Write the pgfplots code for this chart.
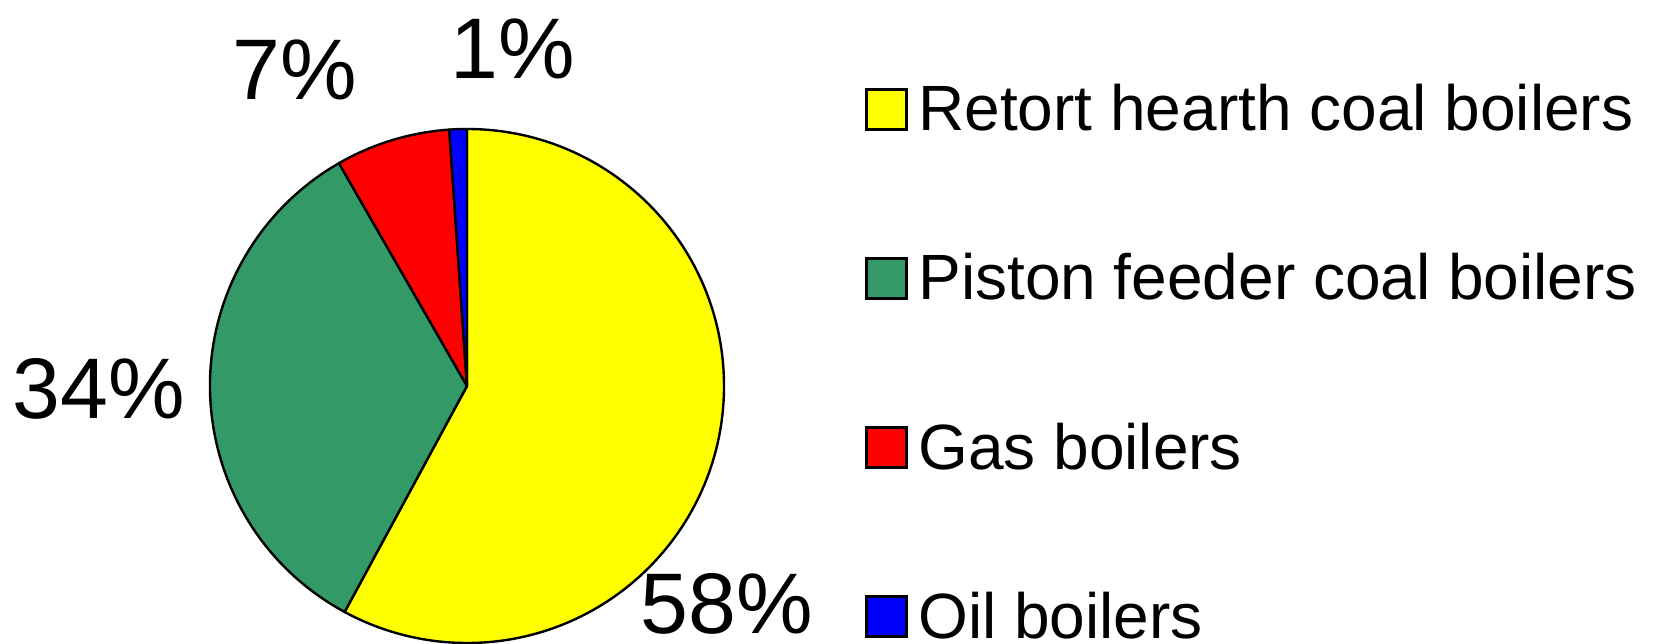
\documentclass[border=0pt]{standalone}
\usepackage{pgfplots}
\pgfplotsset{compat=1.18}
\usepackage{fontspec}
\setmainfont{Liberation Sans}

\definecolor{pieyellow}{HTML}{FFFF00}
\definecolor{piegreen}{HTML}{339966}
\definecolor{piered}{HTML}{FF0000}
\definecolor{pieblue}{HTML}{0000FF}

% slice shares in percent, clockwise from 12 o'clock
\def\pRetort{57.9}
\def\pPiston{33.8}
\def\pGas{7.2}
\def\pOil{1.1}
\pgfmathsetmacro\aA{90}%
\pgfmathsetmacro\aB{\aA-3.6*\pRetort}%
\pgfmathsetmacro\aC{\aB-3.6*\pPiston}%
\pgfmathsetmacro\aD{\aC-3.6*\pGas}%
\pgfmathsetmacro\aE{\aD-3.6*\pOil}%

\begin{document}
\begin{tikzpicture}
\begin{axis}[
    x=0.5pt, y=0.5pt,
    xmin=0, xmax=1665,
    ymin=0, ymax=643,
    hide axis,
    clip=false
]
\coordinate (bl) at (axis cs:0,0);
\coordinate (tr) at (axis cs:1665,643);
% pie, centre (467,257) px, radius 257 px
\filldraw[fill=pieyellow, draw=black, line width=1.2pt, line join=round]
  (axis cs:467,257) -- +(\aA:128.5pt) arc[start angle=\aA, end angle=\aB, radius=128.5pt] -- cycle;
\filldraw[fill=piegreen, draw=black, line width=1.2pt, line join=round]
  (axis cs:467,257) -- +(\aB:128.5pt) arc[start angle=\aB, end angle=\aC, radius=128.5pt] -- cycle;
\filldraw[fill=piered, draw=black, line width=1.2pt, line join=round]
  (axis cs:467,257) -- +(\aC:128.5pt) arc[start angle=\aC, end angle=\aD, radius=128.5pt] -- cycle;
\filldraw[fill=pieblue, draw=black, line width=1.2pt, line join=round]
  (axis cs:467,257) -- +(\aD:128.5pt) arc[start angle=\aD, end angle=\aE, radius=128.5pt] -- cycle;

% percentage labels
\node[font=\fontsize{43}{48}\selectfont, anchor=base west, inner sep=0pt] at (axis cs:640,10) {58\%};
\node[font=\fontsize{43}{48}\selectfont, anchor=base west, inner sep=0pt] at (axis cs:12,224) {34\%};
\node[font=\fontsize{43}{48}\selectfont, anchor=base west, inner sep=0pt] at (axis cs:232,543) {7\%};
\node[font=\fontsize{43}{48}\selectfont, anchor=base west, inner sep=0pt] at (axis cs:450,564) {1\%};

% legend
\filldraw[fill=pieyellow, draw=black, line width=1.5pt] (axis cs:866.5,513.5) rectangle (axis cs:906.5,553.5);
\filldraw[fill=piegreen, draw=black, line width=1.5pt] (axis cs:866.5,344.5) rectangle (axis cs:906.5,384.5);
\filldraw[fill=piered, draw=black, line width=1.5pt] (axis cs:866.5,175.5) rectangle (axis cs:906.5,215.5);
\filldraw[fill=pieblue, draw=black, line width=1.5pt] (axis cs:866.5,6.5) rectangle (axis cs:906.5,46.5);
\node[font=\fontsize{32}{38}\selectfont, anchor=base west, inner sep=0pt] at (axis cs:918,512) {Retort hearth coal boilers};
\node[font=\fontsize{32}{38}\selectfont, anchor=base west, inner sep=0pt] at (axis cs:918,343) {Piston feeder coal boilers};
\node[font=\fontsize{32}{38}\selectfont, anchor=base west, inner sep=0pt] at (axis cs:918,174) {Gas boilers};
\node[font=\fontsize{32}{38}\selectfont, anchor=base west, inner sep=0pt] at (axis cs:918,5) {Oil boilers};
\end{axis}
\pgfresetboundingbox
\useasboundingbox (bl) rectangle (tr);
\end{tikzpicture}
\end{document}
